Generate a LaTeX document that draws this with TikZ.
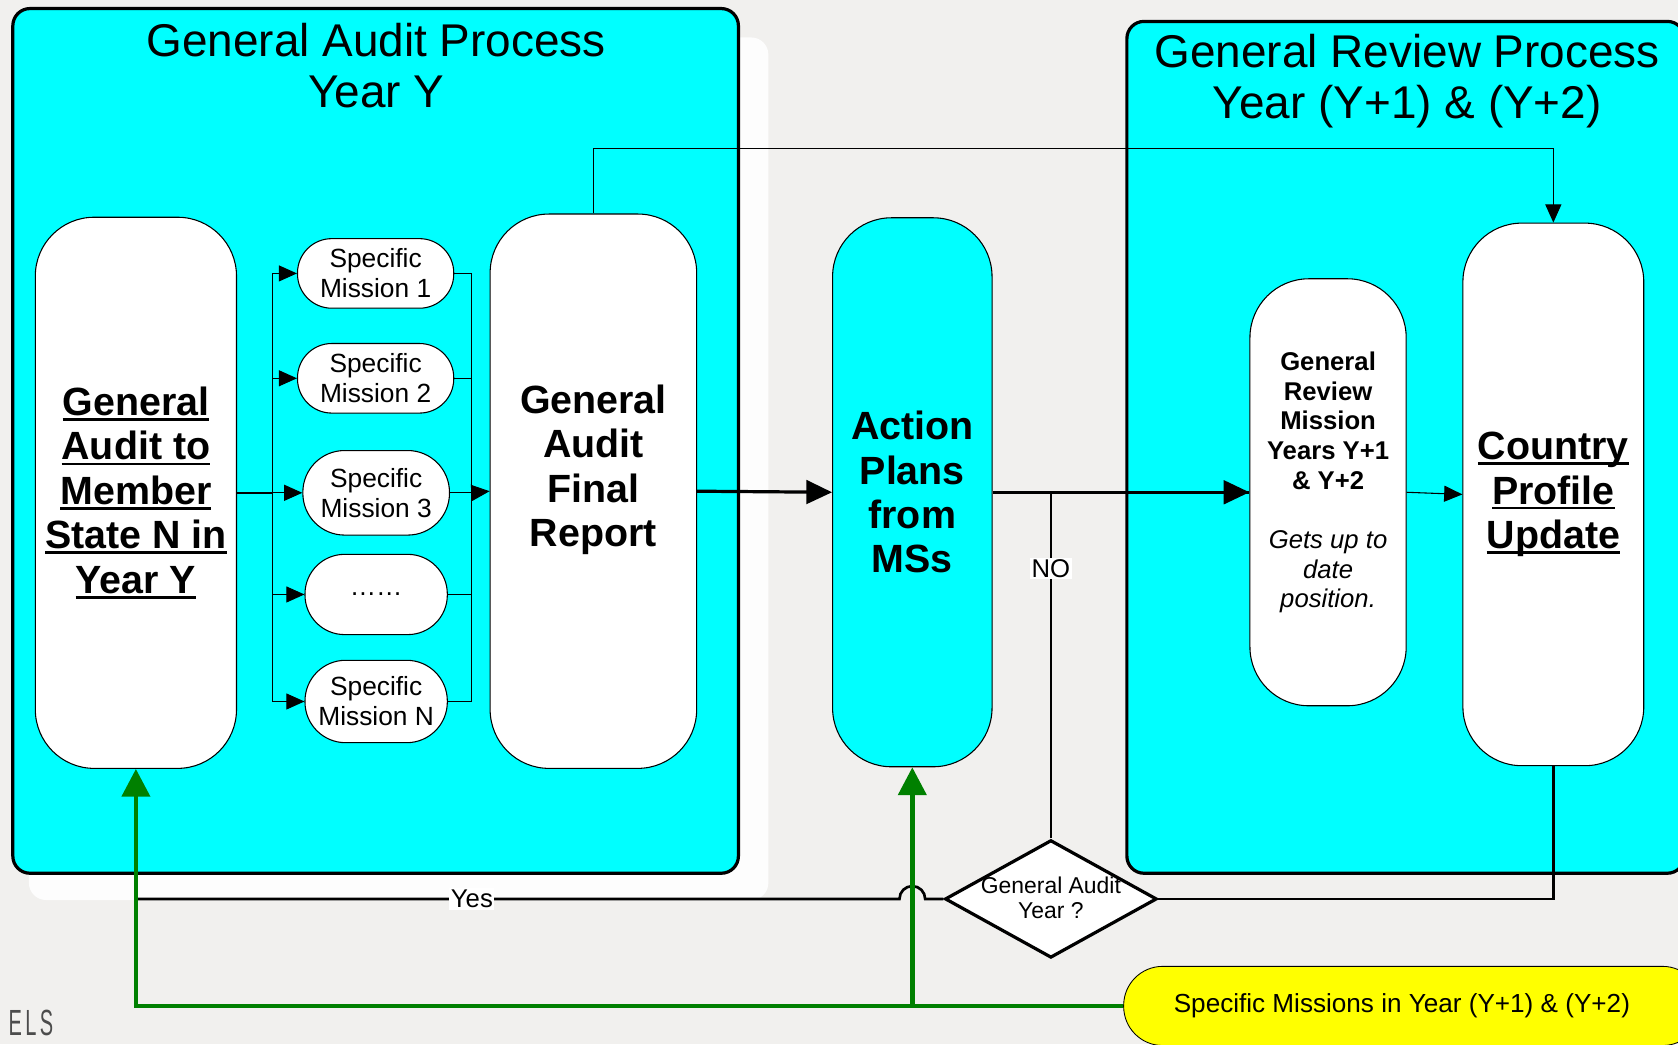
\documentclass[tikz,border=0pt]{standalone}
\usepackage{fontspec}
\setmainfont{Liberation Sans}
\usetikzlibrary{arrows.meta,shapes.geometric,calc}
\definecolor{bg}{RGB}{241,240,238}
\definecolor{shw}{RGB}{253,253,253}
\definecolor{cyanb}{RGB}{0,255,255}
\definecolor{grn}{RGB}{0,128,0}
\definecolor{yel}{RGB}{255,255,0}
\newsavebox\ulbox
\newcommand{\ulw}[1]{\sbox\ulbox{#1}\rlap{\rule[-5pt]{\wd\ulbox}{2.5pt}}\usebox\ulbox}
\tikzset{
  container/.style={draw=black, line width=3pt, fill=cyanb, rounded corners=16pt},
  ttl/.style={align=center, font=\fontsize{42.9}{48}\selectfont},
  bignode/.style={draw=black, line width=1pt, fill=white, rounded corners=55pt, align=center, inner sep=0pt},
  bigfont/.style={font=\fontsize{36.8}{41.5}\selectfont\bfseries},
  mission/.style={draw=black, line width=1pt, fill=white, align=center, inner sep=0pt, font=\fontsize{24.6}{28}\selectfont},
  lab/.style={fill=white, inner sep=1.5pt, font=\fontsize{24}{28}\selectfont},
  cthin/.style={line width=1pt},
  cthick/.style={line width=2.5pt},
  carrowS/.style={-{Triangle[length=17pt,width=15pt]}},
  carrowT/.style={line width=3pt, -{Triangle[length=24pt,width=22pt]}},
  greenarrow/.style={draw=grn, line width=4.5pt, -{Triangle[length=26pt,width=26pt]}},
}
\begin{document}
\begin{tikzpicture}[x=1pt, y=-1pt, line join=miter]
\useasboundingbox (0,0) rectangle (1568,976);
\clip (0,0) rectangle (1568,976);
\fill[bg] (0,0) rectangle (1568,976);
\fill[shw, rounded corners=16pt] (27,35) rectangle (718,841);

% containers
\node[container, minimum width=678pt, minimum height=808pt] (gap) at (351,412) {};
\node[container, minimum width=521pt, minimum height=796pt] (grp) at (1313.5,418) {};
\node[ttl] (t1) at (351.5,61) {General Audit Process\\Year Y};
\node[ttl] (t2) at (1315,76) {General Review Process\\Year (Y+1) \& (Y+2)};

% main nodes
\node[bignode, bigfont, minimum width=188pt, minimum height=515pt] (n1) at (127,460.5)
  {\ulw{General}\\\ulw{Audit to}\\\ulw{Member}\\\ulw{State N in}\\\ulw{Year Y}};
\node[mission, minimum width=146pt, minimum height=65pt, rounded corners=32pt] (m1) at (351,255.5) {Specific\\Mission 1};
\node[mission, minimum width=146pt, minimum height=65pt, rounded corners=32pt] (m2) at (351,353.5) {Specific\\Mission 2};
\node[mission, minimum width=137pt, minimum height=79pt, rounded corners=39pt] (m3) at (351.5,460.5) {Specific\\Mission 3};
\node[mission, minimum width=133pt, minimum height=75pt, rounded corners=37pt] (m4) at (351.5,555.5) {……};
\node[mission, minimum width=133pt, minimum height=77pt, rounded corners=38pt] (mN) at (351.5,655.5) {Specific\\Mission N};
\node[bignode, minimum width=193pt, minimum height=518pt] (fr) at (554.5,459) {};
\node[bigfont, align=center] (frt) at (554.5,439) {General\\Audit\\Final\\Report};
\node[bignode, bigfont, fill=cyanb, minimum width=149pt, minimum height=513pt] (ap) at (852.5,460) {Action\\Plans\\from\\MSs};
\node[bignode, minimum width=146pt, minimum height=399pt] (grm) at (1241,460) {};
\node[align=center, font=\fontsize{24}{27.7}\selectfont] (grmt) at (1241,451)
  {\textbf{General}\\\textbf{Review}\\\textbf{Mission}\\\textbf{Years Y+1}\\\textbf{\& Y+2}\\[27.7pt]
   \textit{Gets up to}\\\textit{date}\\\textit{position.}};
\node[bignode, bigfont, minimum width=169pt, minimum height=507pt] (cpu) at (1451.5,462)
  {\ulw{Country}\\\ulw{Profile}\\\ulw{Update}};
\node[diamond, draw=black, line width=3pt, fill=white, minimum width=198pt, minimum height=110pt, inner sep=0pt] (dq) at (982,840) {};
\node[align=center, font=\fontsize{21.4}{24}\selectfont] (dqt) at (982,839) {General Audit\\Year ?};

% connectors
\coordinate (bl) at (255,460.5);
\coordinate (br) at (441,460.5);
\coordinate (tp) at (1451.5,139);
\draw[line width=2pt] (n1.east) -- (bl);
\foreach \m in {m1,m2,m3,m4,mN} {
  \draw[cthin, carrowS] (bl) |- (\m.west);
  \draw[cthin] (\m.east) -| (br);
}
\draw[cthin, carrowS] (br) -- (fr.west);
\draw[carrowT] (fr.east) -- (ap.west);
\draw[carrowT] (ap.east) -- (grm.west);
\draw[cthick] (dq.north) |- node[lab, pos=0.39] (no) {NO} (grm.west);
\draw[cthin, carrowS] (grm.east) -- (cpu.west);
\draw[cthin, carrowS] (fr.north) |- (tp) -- (cpu.north);
\draw[cthick] (cpu.south) |- (dq.east);
\draw[cthick] (dq.west) -- ($(ap.south |- dq.west)+(12,0)$) arc[start angle=0, end angle=-180, radius=12]
  -- node[lab, pos=0.56] (yes) {Yes} (n1.south |- dq.west);

% green connectors
\coordinate (gy) at (1052,940);
\draw[greenarrow] (gy) -- (n1.south |- gy) -- (n1.south);
\draw[greenarrow] (ap.south |- gy) -- (ap.south);
\node[draw=black, line width=0.8pt, fill=yel, rounded corners=36.5pt, minimum width=540pt, minimum height=74pt] (yel) at (1320,940) {};
\node[font=\fontsize{24.4}{28}\selectfont] (yelt) at (1310,940) {Specific Missions in Year (Y+1) \& (Y+2)};

% logo fragment
\node[anchor=base west, inner sep=0pt, xscale=0.55, text=black!70, font=\fontsize{34}{34}\selectfont] (els) at (8,968) {E\,L\,S};
\end{tikzpicture}
\end{document}
